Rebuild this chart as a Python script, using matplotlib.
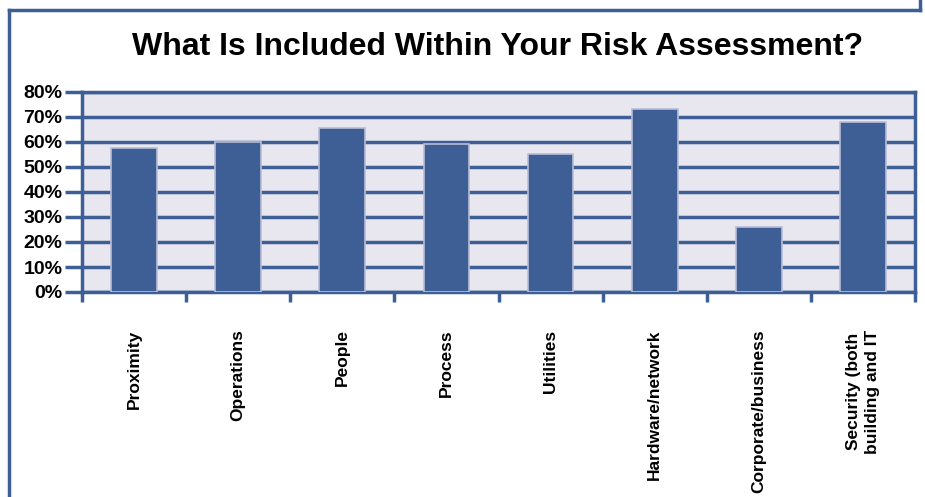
import matplotlib
matplotlib.use("Agg")
import matplotlib.pyplot as plt
from matplotlib.lines import Line2D
import numpy as np

categories = ["Proximity", "Operations", "People", "Process", "Utilities",
              "Hardware/network", "Corporate/business", "Security (both\nbuilding and IT"]
values = [57.5, 60, 65.5, 59, 55, 73, 26, 68]
yticks = [0, 10, 20, 30, 40, 50, 60, 70, 80]

blue = "#3d5f96"
plt.rcParams["font.family"] = ["Liberation Sans", "DejaVu Sans"]
plt.rcParams["font.weight"] = "bold"

fig = plt.figure(figsize=(9.25, 4.97), dpi=100)
ax = fig.add_axes([82 / 925, 1 - 292 / 497, 833 / 925, 200 / 497])
ax.set_facecolor("#e8e6ee")

x = np.arange(len(categories))
ax.bar(x, values, width=0.44, color=blue, edgecolor="#b9bcd6", linewidth=1.2, zorder=3)

ax.set_xlim(-0.5, len(categories) - 0.5)
ax.set_ylim(0, 80)
ax.set_yticks(yticks)
ax.set_yticklabels([f"{v}%" for v in yticks], fontsize=14, fontweight="heavy")
ax.yaxis.grid(True, color=blue, linewidth=2.5, zorder=1)
ax.tick_params(axis="y", length=12, width=2.5, color=blue, pad=2)

ax.set_xticks(x)
ax.set_xticklabels(categories, rotation=90, fontsize=12.5, fontweight="heavy", va="top",
                   linespacing=1.3)
ax.tick_params(axis="x", length=0, pad=27)
ax.set_xticks(np.arange(-0.5, len(categories)), minor=True)
ax.tick_params(axis="x", which="minor", length=7, width=2.5, color=blue)

for s in ax.spines.values():
    s.set_color(blue)
    s.set_linewidth(2.5)

fig.text(498 / 925, 1 - 47 / 497, "What Is Included Within Your Risk Assessment?",
         ha="center", va="center", fontsize=23, fontweight="heavy")

# outer frame around the chart
fig.add_artist(Line2D([9 / 925, 9 / 925], [0, 1 - 10 / 497], color=blue, linewidth=2.5,
                      transform=fig.transFigure))
fig.add_artist(Line2D([9 / 925, 920 / 925], [1 - 10 / 497, 1 - 10 / 497], color=blue,
                      linewidth=2.5, transform=fig.transFigure))
fig.add_artist(Line2D([920 / 925, 920 / 925], [1 - 10 / 497, 1], color=blue, linewidth=2.5,
                      transform=fig.transFigure))

fig.savefig("out.png", dpi=100)
